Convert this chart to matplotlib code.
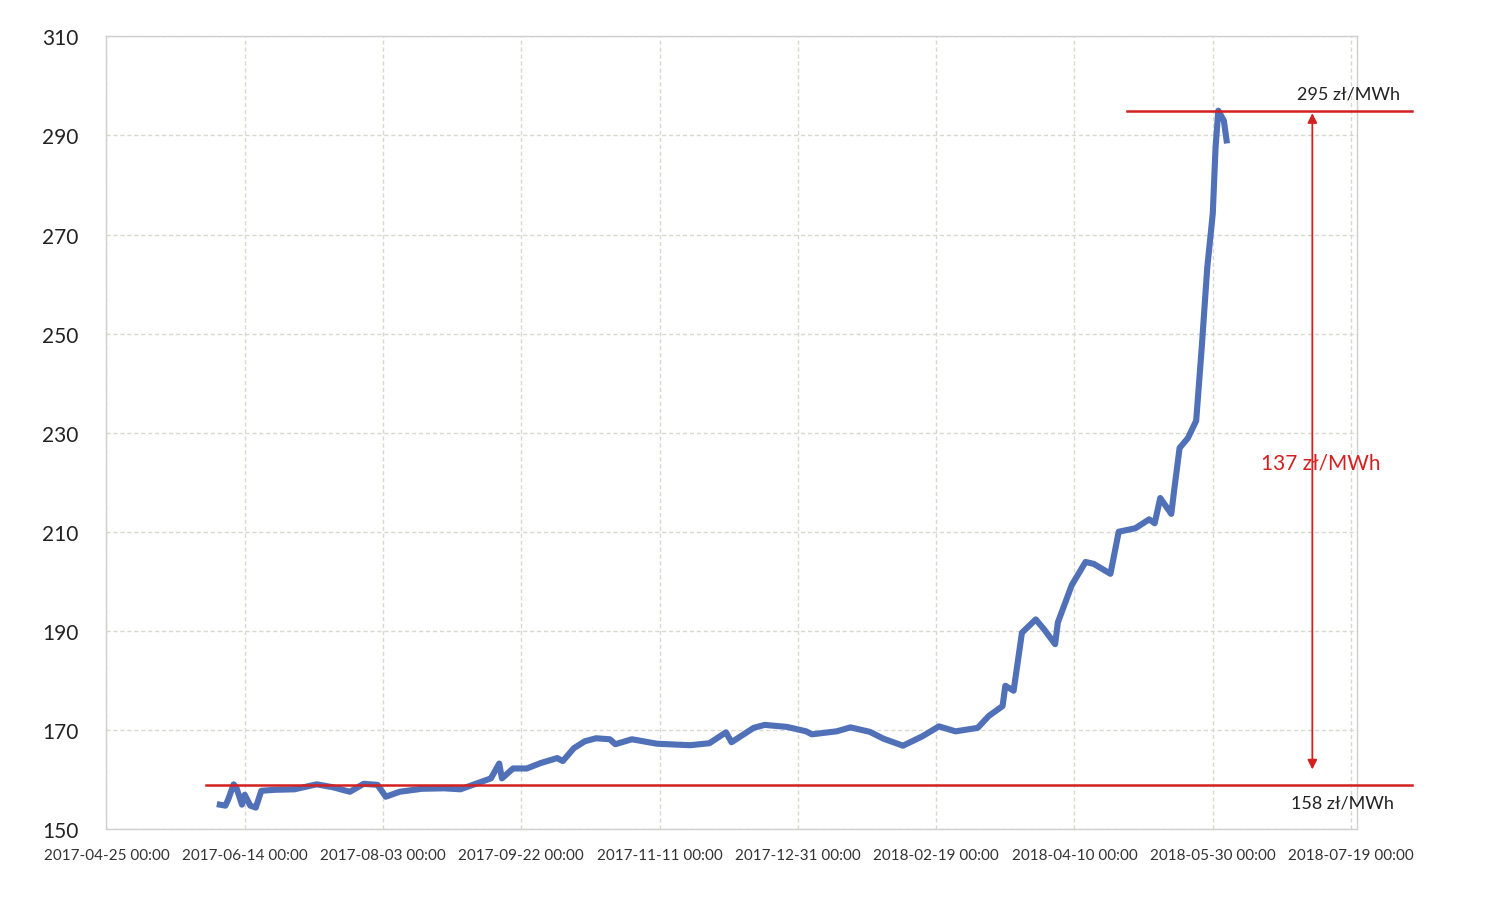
import matplotlib
matplotlib.use("Agg")
import matplotlib.pyplot as plt
import pandas as pd

# ---- data ----
dates = [
    "2017-06-05", "2017-06-07", "2017-06-08", "2017-06-10", "2017-06-11", "2017-06-13",
    "2017-06-14", "2017-06-16", "2017-06-18", "2017-06-20", "2017-06-25", "2017-07-02",
    "2017-07-10", "2017-07-16", "2017-07-22", "2017-07-27", "2017-08-01", "2017-08-04",
    "2017-08-09", "2017-08-17", "2017-08-25", "2017-08-31", "2017-09-06", "2017-09-11",
    "2017-09-14", "2017-09-15", "2017-09-19", "2017-09-24", "2017-09-29", "2017-10-05",
    "2017-10-07", "2017-10-11", "2017-10-15", "2017-10-19", "2017-10-24", "2017-10-26",
    "2017-11-01", "2017-11-10", "2017-11-22", "2017-11-29", "2017-12-05", "2017-12-07",
    "2017-12-15", "2017-12-19", "2017-12-27", "2018-01-03", "2018-01-05", "2018-01-14",
    "2018-01-19", "2018-01-26", "2018-01-31", "2018-02-07", "2018-02-14", "2018-02-20",
    "2018-02-26", "2018-03-06", "2018-03-10", "2018-03-15", "2018-03-16", "2018-03-19",
    "2018-03-22", "2018-03-27", "2018-03-30", "2018-04-03", "2018-04-04", "2018-04-09",
    "2018-04-14", "2018-04-17", "2018-04-23", "2018-04-26", "2018-05-02", "2018-05-07",
    "2018-05-09", "2018-05-11", "2018-05-15", "2018-05-16", "2018-05-18", "2018-05-21",
    "2018-05-24", "2018-05-26", "2018-05-28", "2018-05-30", "2018-05-31", "2018-06-01",
    "2018-06-03", "2018-06-04",
]
prices = [
    154.9, 154.7, 155.9, 159.0, 158.3, 154.9,
    156.9, 154.7, 154.3, 157.7, 157.9, 158.0,
    159.0, 158.4, 157.5, 159.1, 158.9, 156.5,
    157.5, 158.1, 158.2, 158.0, 159.2, 160.2,
    163.2, 160.2, 162.2, 162.2, 163.3, 164.3,
    163.7, 166.3, 167.7, 168.3, 168.1, 167.1,
    168.1, 167.2, 166.9, 167.3, 169.5, 167.5,
    170.4, 171.0, 170.6, 169.7, 169.1, 169.7,
    170.5, 169.6, 168.2, 166.8, 168.7, 170.7,
    169.7, 170.4, 172.8, 174.8, 178.9, 177.9,
    189.6, 192.3, 190.3, 187.3, 191.7, 199.2,
    203.9, 203.5, 201.5, 210.0, 210.7, 212.5,
    211.7, 216.8, 213.6, 218.2, 226.9, 228.9,
    232.4, 247.1, 263.3, 274.2, 287.5, 295.0,
    293.0, 289.0,
]

tick_dates = ["2017-04-25", "2017-06-14", "2017-08-03", "2017-09-22", "2017-11-11",
              "2017-12-31", "2018-02-19", "2018-04-10", "2018-05-30", "2018-07-19"]
y_ticks = [150, 170, 190, 210, 230, 250, 270, 290, 310]

low_level = 158.8
high_level = 295.0
low_label = "158 zł/MWh"
high_label = "295 zł/MWh"
diff_label = "137 zł/MWh"

# ---- figure ----
plt.rcParams["font.family"] = ["Lato", "DejaVu Sans"]
fig = plt.figure(figsize=(14.99, 9.12), dpi=100)
fig.patch.set_facecolor("white")
ax = fig.add_axes([0.071, 0.09, 0.834, 0.869])

x = pd.to_datetime(dates)
ax.plot(x, prices, color="#5070b8", lw=4.4, solid_joinstyle="round", zorder=3)

tx = pd.to_datetime(tick_dates)
ax.set_xlim(tx[0], tx[-1] + pd.Timedelta(days=2))
ax.set_ylim(150, 310)
ax.set_xticks(tx)
ax.set_xticklabels([d + " 00:00" for d in tick_dates], fontsize=11, color="#333333")
ax.set_yticks(y_ticks)
ax.set_yticklabels([str(v) for v in y_ticks], fontsize=15, color="#222222")
ax.tick_params(axis="both", length=0)
ax.tick_params(axis="x", pad=14)
ax.tick_params(axis="y", pad=20)

ax.grid(True, color="#d8d8d0", lw=1.0, linestyle=(0, (3, 2)))
ax.set_axisbelow(True)
for s in ax.spines.values():
    s.set_color("#cfcfcf")
    s.set_linewidth(1.0)

# ---- annotations ----
red = "#d42020"
t_low_start = pd.Timestamp("2017-05-31")
t_high_start = pd.Timestamp("2018-04-29")
t_end = pd.Timestamp("2018-08-10")
t_arrow = pd.Timestamp("2018-07-05")

ax.plot([t_low_start, t_end], [low_level, low_level], color=red, lw=1.8,
        clip_on=False, zorder=4)
ax.plot([t_high_start, t_end], [high_level, high_level], color=red, lw=1.8,
        clip_on=False, zorder=4)
ax.annotate("", xy=(t_arrow, high_level - 0.5), xytext=(t_arrow, low_level + 3.2),
            arrowprops=dict(arrowstyle="<|-|>", color=red, lw=1.3,
                            mutation_scale=14, shrinkA=0, shrinkB=0),
            zorder=4, annotation_clip=False)
ax.text(pd.Timestamp("2018-07-18"), high_level + 1.8, high_label, fontsize=13,
        color="#222222", ha="center", va="bottom", clip_on=False)
ax.text(pd.Timestamp("2018-07-08"), 224.0, diff_label, fontsize=15, color=red,
        ha="center", va="center")
ax.text(pd.Timestamp("2018-07-16"), low_level - 1.8, low_label, fontsize=13,
        color="#222222", ha="center", va="top", clip_on=False)

fig.savefig("out.png", dpi=100, facecolor="white")
